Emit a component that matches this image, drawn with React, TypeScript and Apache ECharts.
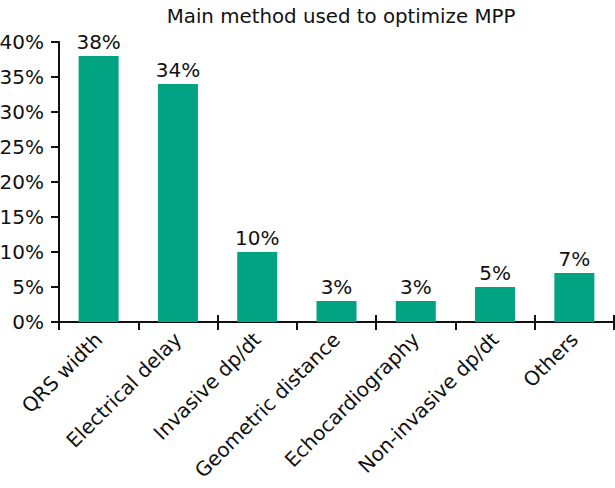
import React, { useEffect, useRef } from "react";
import * as echarts from "echarts";

const title = "Main method used to optimize MPP";
const categories = [
  "QRS width",
  "Electrical delay",
  "Invasive dp/dt",
  "Geometric distance",
  "Echocardiography",
  "Non-invasive dp/dt",
  "Others",
];
const values = [38, 34, 10, 3, 3, 5, 7];
const yMin = 0;
const yMax = 40;
const yStep = 5;

const FONT = "DejaVu Sans";

export default function App() {
  const ref = useRef<HTMLDivElement>(null);
  useEffect(() => {
    if (!ref.current) return;
    const chart = echarts.init(ref.current, undefined, { renderer: "svg" });
    chart.setOption({
      animation: false,
      backgroundColor: "#ffffff",
      title: {
        text: title,
        left: 336,
        textAlign: "center",
        top: 1,
        textStyle: { fontFamily: FONT, fontSize: 19.8, fontWeight: "normal", color: "#111" },
      },
      grid: { left: 59, right: 1, top: 42, bottom: 166, containLabel: false, outerBoundsMode: "none" },
      xAxis: [
        {
          type: "category",
          data: categories,
          boundaryGap: true,
          axisLine: { show: true, lineStyle: { color: "#111", width: 2 } },
          axisTick: { show: true, alignWithLabel: false, length: 8, lineStyle: { color: "#111", width: 2 } },
          axisLabel: {
            rotate: 45,
            interval: 0,
            margin: 14,
            fontFamily: FONT,
            fontSize: 20,
            color: "#111",
          },
        },
        {
          type: "category",
          data: categories,
          position: "bottom",
          boundaryGap: true,
          axisLine: { show: false },
          axisTick: { show: true, inside: true, length: 7, lineStyle: { color: "#111", width: 2 } },
          axisLabel: { show: false },
        },
      ],
      yAxis: {
        type: "value",
        min: yMin,
        max: yMax,
        interval: yStep,
        splitLine: { show: false },
        axisLine: { show: true, lineStyle: { color: "#111", width: 2 } },
        axisTick: { show: true, length: 8, lineStyle: { color: "#111", width: 2 } },
        axisLabel: {
          formatter: "{value}%",
          margin: 15,
          fontFamily: FONT,
          fontSize: 20,
          color: "#111",
        },
      },
      series: [
        {
          type: "bar",
          xAxisIndex: 0,
          data: values,
          barWidth: 40,
          itemStyle: { color: "#02a383" },
          label: {
            show: true,
            position: "top",
            distance: 4,
            formatter: "{c}%",
            fontFamily: FONT,
            fontSize: 20,
            color: "#111",
          },
        },
      ],
    });
    return () => chart.dispose();
  }, []);
  return <div ref={ref} style={{ width: 615, height: 488, position: "absolute", left: 0, top: 0 }} />;
}
